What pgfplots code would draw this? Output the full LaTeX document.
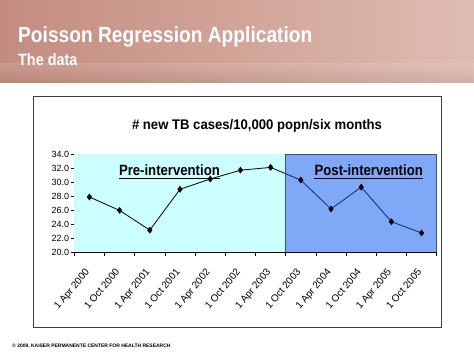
\documentclass[border=0pt]{standalone}
\usepackage{pgfplots}
\pgfplotsset{compat=1.18}
\usepackage{fontspec}
\setmainfont{Liberation Sans}
\newfontfamily\narrow[FakeStretch=0.875]{Liberation Sans}
\newfontfamily\semi[FakeStretch=0.94]{Liberation Sans}
\newfontfamily\semib[FakeStretch=0.88]{Liberation Sans}
\definecolor{hdrL}{RGB}{196,140,128}
\definecolor{hdrM}{RGB}{210,164,152}
\definecolor{hdrR}{RGB}{222,188,178}
\definecolor{preC}{RGB}{204,255,255}
\definecolor{postC}{RGB}{1,85,241}
\definecolor{postB}{RGB}{64,80,112}
\definecolor{frameC}{RGB}{60,60,60}
\begin{document}
\begin{tikzpicture}[x=1bp,y=1bp]
\useasboundingbox (0,0) rectangle (474,355);
\fill[white] (0,0) rectangle (474,355);
% header band
\shade[left color=hdrL, right color=hdrR, middle color=hdrM] (0,273) rectangle (474,355);
\shade[top color=white, bottom color=hdrL!60!black, opacity=0.12] (0,273) rectangle (474,292);
\node[anchor=base west, inner sep=0, text=white, font=\narrow\bfseries\fontsize{22}{24}\selectfont] at (18,313) {Poisson Regression Application};
\node[anchor=base west, inner sep=0, text=white, font=\narrow\bfseries\fontsize{16.5}{18}\selectfont] at (18,290) {The data};
% chart frame
\draw[frameC, line width=1bp] (33,28) rectangle (441,259);
\node[anchor=base, inner sep=0, font=\semi\bfseries\fontsize{14}{16}\selectfont] at (257,225.7) {\# new TB cases/10,000 popn/six months};
\begin{axis}[
  at={(74.3bp,102.3bp)}, anchor=south west,
  scale only axis, width=362.4bp, height=98.7bp,
  xmin=-0.5, xmax=11.5, ymin=20, ymax=34,
  axis lines*=left, axis line style={-, black, line width=0.8bp},
  tick align=outside, major tick length=3.5bp,
  tick style={black, line width=0.7bp},
  xtick={-0.5,0.5,...,11.5}, xticklabels={},
  extra x ticks={0,1,2,3,4,5,6,7,8,9,10,11},
  extra x tick labels={1 Apr 2000,1 Oct 2000,1 Apr 2001,1 Oct 2001,1 Apr 2002,1 Oct 2002,1 Apr 2003,1 Oct 2003,1 Apr 2004,1 Oct 2004,1 Apr 2005,1 Oct 2005},
  extra x tick style={major tick length=0pt, tick label style={xshift=-5bp, yshift=-15bp, rotate=50, anchor=north east, font=\fontsize{10}{11}\selectfont, inner sep=0bp}},
  ytick={20,22,...,34},
  yticklabel style={font=\fontsize{9}{10}\selectfont, inner sep=1.5bp},
  /pgf/number format/assume math mode=true,
  /pgf/number format/.cd, fixed, fixed zerofill, precision=1, /pgfplots/.cd,
  clip=false,
]
\fill[preC] (axis cs:-0.5,20) rectangle (axis cs:6.5,34);
\addplot[black, line width=0.8bp, mark=diamond*, mark size=2.8bp, mark options={fill=black}] coordinates {
(0,27.9) (1,26.0) (2,23.2) (3,29.0) (4,30.45) (5,31.7) (6,32.1) (7,30.3) (8,26.2) (9,29.3) (10,24.4) (11,22.8)};
\fill[postC, opacity=0.5] (axis cs:6.5,20) rectangle (axis cs:11.5,34);
\draw[postB, line width=0.9bp] (axis cs:6.5,20) rectangle (axis cs:11.5,34);
\draw[black, line width=0.8bp] (axis cs:-0.5,20) -- (axis cs:11.5,20);
\node[anchor=base, inner sep=0, font=\semib\bfseries\fontsize{15}{16}\selectfont] (pre) at (axis cs:2.65,30.9) {Pre-intervention};
\draw[black, line width=0.8bp] ([yshift=-2.2bp]pre.base west) -- ([yshift=-2.2bp]pre.base east);
\node[anchor=base, inner sep=0, font=\semib\bfseries\fontsize{15}{16}\selectfont] (post) at (axis cs:9.25,30.9) {Post-intervention};
\draw[black, line width=0.8bp] ([yshift=-2.2bp]post.base west) -- ([yshift=-2.2bp]post.base east);
\end{axis}
\node[anchor=base west, inner sep=0, font=\bfseries\fontsize{5}{6}\selectfont] at (12,8) {\textcopyright{} 2009, KAISER PERMANENTE CENTER FOR HEALTH RESEARCH};
\end{tikzpicture}
\end{document}
